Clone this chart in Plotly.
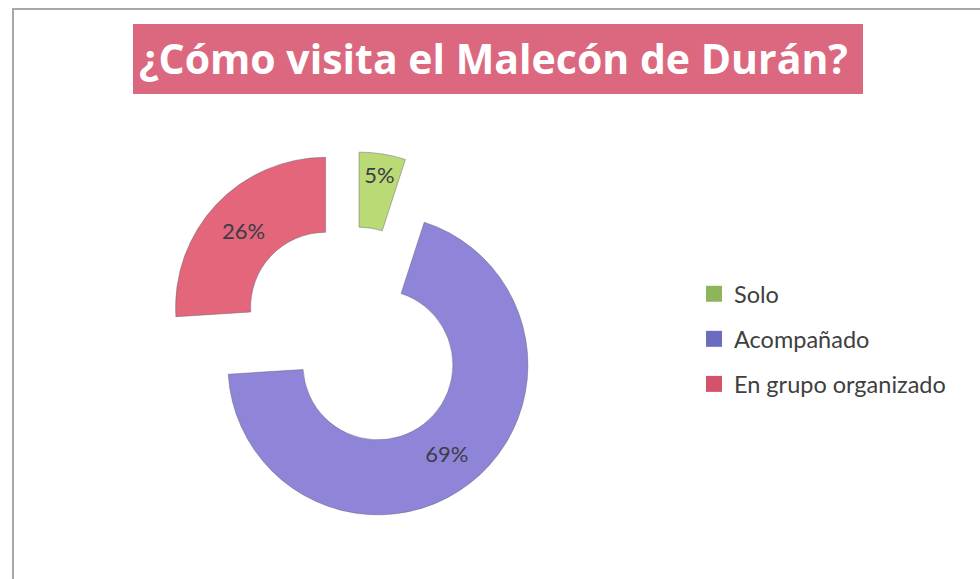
import plotly.graph_objects as go

# ---- data ----
categories = ["Solo", "Acompañado", "En grupo organizado"]
values = [5, 69, 26]
slice_colors = ["#B9DA74", "#8E85D8", "#E3667A"]
legend_colors = ["#8DB65A", "#6B6CC0", "#D4526A"]
title_text = "¿Cómo visita el Malecón de Durán?"

W, H = 980, 579

fig = go.Figure()

fig.add_trace(go.Pie(
    labels=categories,
    values=values,
    sort=False,
    direction="clockwise",
    rotation=0,
    hole=0.5,
    pull=[0.215, 0.26, 0.26],
    marker=dict(colors=slice_colors, line=dict(color="rgba(90,90,110,0.45)", width=1)),
    textinfo="percent",
    texttemplate="%{percent:.0%}",
    textposition="inside",
    insidetextorientation="horizontal",
    textfont=dict(family="Lato", size=22, color="#3C3C48"),
    domain=dict(x=[165 / W, 543 / W], y=[56 / H, 434 / H]),
    showlegend=False,
    hoverinfo="label+percent",
))

# legend entries (one per category, no data points)
for i, (cat, col) in enumerate(zip(categories, legend_colors)):
    fig.add_trace(go.Scatter(
        x=[None], y=[None], mode="markers", name=cat,
        marker=dict(symbol="square", size=17, color=col),
        legendgroup=f"g{i}", showlegend=True,
    ))

fig.update_layout(
    width=W, height=H,
    margin=dict(l=0, r=0, t=0, b=0),
    paper_bgcolor="white",
    plot_bgcolor="white",
    xaxis=dict(visible=False),
    yaxis=dict(visible=False),
    legend=dict(
        x=694 / W, xanchor="left",
        y=1 - 272 / H, yanchor="top",
        font=dict(family="Lato", size=23.5, color="#404040"),
        tracegroupgap=11.5,
        bgcolor="rgba(0,0,0,0)",
        itemclick=False, itemdoubleclick=False,
    ),
    shapes=[
        dict(type="rect", xref="paper", yref="paper",
             x0=13 / W, x1=1.05, y0=-0.05, y1=1 - 9 / H,
             line=dict(color="#A8A8A8", width=2), fillcolor="rgba(0,0,0,0)", layer="below"),
        dict(type="rect", xref="paper", yref="paper",
             x0=133 / W, x1=863 / W, y0=1 - 94 / H, y1=1 - 24 / H,
             line=dict(width=0), fillcolor="#DC6880", layer="below"),
    ],
    annotations=[
        dict(text=f"<b>{title_text}</b>", xref="paper", yref="paper",
             x=493 / W, y=1 - 58 / H, xanchor="center", yanchor="middle",
             showarrow=False, font=dict(family="Open Sans", size=41, color="white")),
    ],
)

fig.write_html("out.html", config={"displayModeBar": False},
               post_script="document.body.style.margin='0px';")
